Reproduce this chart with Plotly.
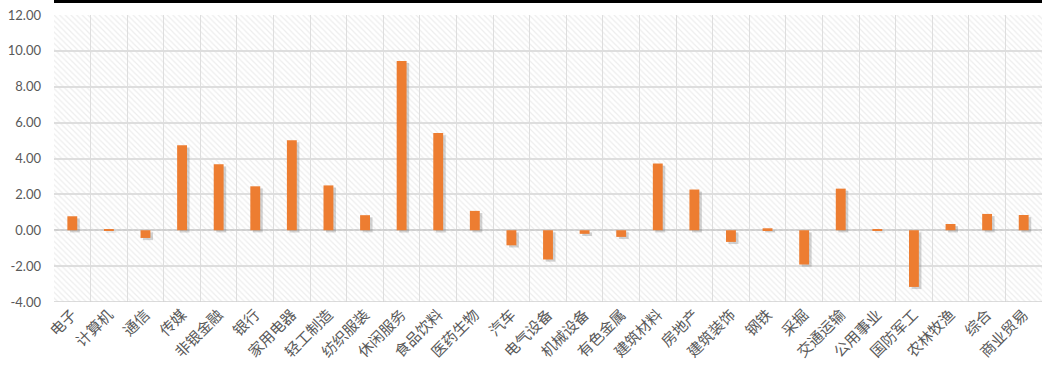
import plotly.graph_objects as go

categories = ["电子", "计算机", "通信", "传媒", "非银金融", "银行", "家用电器", "轻工制造", "纺织服装",
              "休闲服务", "食品饮料", "医药生物", "汽车", "电气设备", "机械设备", "有色金属", "建筑材料",
              "房地产", "建筑装饰", "钢铁", "采掘", "交通运输", "公用事业", "国防军工", "农林牧渔",
              "综合", "商业贸易"]
values = [0.78, 0.05, -0.43, 4.74, 3.68, 2.45, 5.02, 2.50, 0.84,
          9.44, 5.42, 1.08, -0.84, -1.63, -0.20, -0.37, 3.72,
          2.27, -0.65, 0.11, -1.91, 2.32, 0.05, -3.16, 0.35,
          0.91, 0.85]
y_ticks = [-4, -2, 0, 2, 4, 6, 8, 10, 12]
y_labels = ["-4.00", "-2.00", "0.00", "2.00", "4.00", "6.00", "8.00", "10.00", "12.00"]

W, H = 1042, 367
ML, MR, MT, MB = 54, 0, 15, 65
plot_h = H - MT - MB

fig = go.Figure()

# hatched background
fig.add_trace(go.Bar(
    x=categories, y=[y_ticks[-1] - y_ticks[0]] * len(categories), base=y_ticks[0],
    width=1, marker=dict(color="rgba(255,255,255,0)", line=dict(width=0),
                         pattern=dict(shape="\\", fgcolor="#dcdcdc", size=4, solidity=0.3)),
    hoverinfo="skip", showlegend=False))

# shadow
fig.add_trace(go.Bar(
    x=categories, y=values, base=-0.12, width=0.27, offset=-0.135 + 0.07,
    marker=dict(color="rgba(110,110,110,0.3)", line=dict(width=0)),
    hoverinfo="skip", showlegend=False))

# main bars
fig.add_trace(go.Bar(
    x=categories, y=values, width=0.27, offset=-0.135,
    marker=dict(color="#ED7D31", line=dict(width=0)),
    showlegend=False))

fig.update_layout(
    width=W, height=H,
    margin=dict(l=ML, r=MR, t=MT, b=MB),
    paper_bgcolor="white", plot_bgcolor="white",
    barmode="overlay",
    font=dict(family="Lato, 'Noto Sans CJK SC', sans-serif", color="#595959"),
    shapes=[dict(type="rect", xref="paper", yref="paper", x0=0, x1=1,
                 y0=1 + (MT - 3) / plot_h, y1=1 + MT / plot_h + 0.01,
                 fillcolor="black", line=dict(width=0), layer="above")],
)
fig.update_xaxes(
    type="category", tickson="boundaries", showgrid=True, gridcolor="#dedede", gridwidth=1,
    tickangle=-45, tickfont=dict(family="'Noto Sans CJK SC'", size=15, color="#595959"),
    ticks="", showline=False, range=[-0.5, len(categories) - 0.5], fixedrange=True)
fig.update_yaxes(
    range=[y_ticks[0], y_ticks[-1]], tickvals=y_ticks, ticktext=y_labels,
    showgrid=True, gridcolor="#dedede", gridwidth=1.5,
    zeroline=True, zerolinecolor="#cfcfcf", zerolinewidth=1.5,
    tickfont=dict(family="Lato", size=13, color="#595959"),
    ticklabelstandoff=12, showline=False)
fig.add_hline(y=y_ticks[0], line=dict(color="#d0d0d0", width=1.5))

fig.write_html("out.html")
